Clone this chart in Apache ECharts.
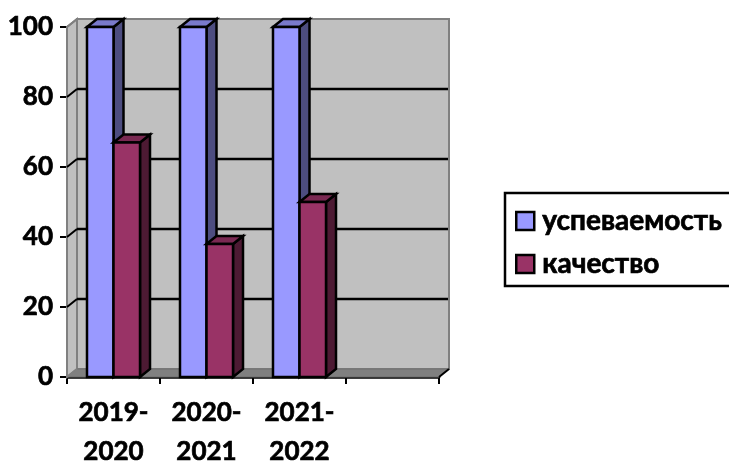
<!DOCTYPE html>
<html><head><meta charset="utf-8">
<style>html,body{margin:0;padding:0;background:#fff;overflow:hidden}#c{width:729px;height:461px}</style>
<script src="https://cdn.jsdelivr.net/npm/echarts@6/dist/echarts.min.js"></script>
</head><body><div id="c"></div>
<script>
const categories = ['2019-\n2020', '2020-\n2021', '2021-\n2022', ''];
const uspevaemost = [100, 100, 100];
const kachestvo = [67, 38, 50];
const yTicks = [0, 20, 40, 60, 80, 100];

const FONT = 'Lato, "Noto Sans", sans-serif';
const DX = 10, DY = 8;

function wallItem(params, api) {
  const g = params.coordSys;
  const x0 = g.x, x1 = g.x + g.width, yT = g.y, yB = g.y + g.height;
  const kids = [
    {type:'polygon', shape:{points:[[x0+DX,yT-DY],[x1+DX,yT-DY],[x1+DX,yB-DY],[x0+DX,yB-DY]]},
      style:{fill:'#c0c0c0', stroke:'#808080', lineWidth:2}},
    {type:'polygon', shape:{points:[[x0,yT],[x0+DX,yT-DY],[x0+DX,yB-DY],[x0,yB]]},
      style:{fill:'#c0c0c0', stroke:'#808080', lineWidth:2}},
    {type:'polygon', shape:{points:[[x0,yB],[x0+DX,yB-DY],[x1+DX,yB-DY],[x1,yB]]},
      style:{fill:'#808080', stroke:'#6e6e6e', lineWidth:1}}
  ];
  yTicks.forEach(v => {
    const y = api.coord([0, v])[1];
    if (v > 0 && v < 100) {
      kids.push({type:'line', shape:{x1:x0+DX,y1:y-DY,x2:x1+DX-1,y2:y-DY}, style:{stroke:'#000',lineWidth:2.5}});
    }
    kids.push({type:'line', shape:{x1:x0,y1:y,x2:x0+DX,y2:y-DY},
      style:{stroke: v===0 || v===100 ? '#808080' : '#000', lineWidth:2}});
  });
  kids.push({type:'line', shape:{x1:x1,y1:yB,x2:x1+DX,y2:yB-DY}, style:{stroke:'#000',lineWidth:2}});
  return {type:'group', children:kids};
}

function barItem(face, side, top, offset) {
  return function (params, api) {
    const band = api.size([1, 0])[0];
    const w = band * 0.285;
    const c = api.coord([api.value(0), api.value(1)]);
    const base = api.coord([api.value(0), 0])[1];
    const l = c[0] + offset * w, r = l + w, t = c[1];
    const edge = {stroke:'#000', lineWidth:2.5, lineJoin:'miter'};
    return {type:'group', children:[
      {type:'polygon', shape:{points:[[r,base],[r+DX,base-DY],[r+DX,t-DY],[r,t]]}, style:Object.assign({fill:side}, edge)},
      {type:'polygon', shape:{points:[[l,t],[l+DX,t-DY],[r+DX,t-DY],[r,t]]}, style:Object.assign({fill:top}, edge)},
      {type:'rect', shape:{x:l,y:t,width:w,height:base-t}, style:Object.assign({fill:face}, edge)}
    ]};
  };
}

const heavy = {fontFamily:FONT, fontWeight:'bold', color:'#000', textBorderColor:'#000', textBorderWidth:0.7};

const chart = echarts.init(document.getElementById('c'), null, {renderer:'canvas'});
chart.setOption({
  animation:false,
  backgroundColor:'#fff',
  grid:{left:67, top:27, width:372, height:350, outerBoundsMode:'none'},
  legend:{
    data:['успеваемость','качество'], orient:'vertical', left:505, top:193,
    padding:[12,60,6,10], itemGap:11, itemWidth:18, itemHeight:18, icon:'rect',
    borderColor:'#000', borderWidth:2.5,
    itemStyle:{borderColor:'#000', borderWidth:2.5},
    textStyle:Object.assign({fontSize:28, lineHeight:32, padding:[0,0,0,3]}, heavy)
  },
  xAxis:{type:'category', data:categories, boundaryGap:true,
    axisLine:{lineStyle:{color:'#000',width:2.5}},
    axisTick:{show:true,length:7,alignWithLabel:false,lineStyle:{color:'#000',width:2}},
    axisLabel:Object.assign({interval:0, fontSize:26, lineHeight:39, margin:16}, heavy)
  },
  yAxis:{type:'value', min:0, max:100, interval:20,
    axisLine:{show:true,lineStyle:{color:'#000',width:2.5}},
    axisTick:{show:true,length:7,lineStyle:{color:'#000',width:2}},
    splitLine:{show:false},
    axisLabel:Object.assign({fontSize:26, margin:14}, heavy)
  },
  series:[
    {name:'wall', type:'custom', coordinateSystem:'cartesian2d', clip:false, z:1, silent:true,
      data:[[0,0]], encode:{x:0,y:1}, renderItem:wallItem},
    {name:'успеваемость', type:'custom', coordinateSystem:'cartesian2d', clip:false, z:2,
      itemStyle:{color:'#9999ff'}, encode:{x:0,y:1},
      data:uspevaemost.map((v,i)=>[i,v]), renderItem:barItem('#9999ff','#4d4d80','#7a7acc',-1)},
    {name:'качество', type:'custom', coordinateSystem:'cartesian2d', clip:false, z:3,
      itemStyle:{color:'#993366'}, encode:{x:0,y:1},
      data:kachestvo.map((v,i)=>[i,v]), renderItem:barItem('#993366','#4d1a33','#7a2952',0)}
  ]
});
</script></body></html>
